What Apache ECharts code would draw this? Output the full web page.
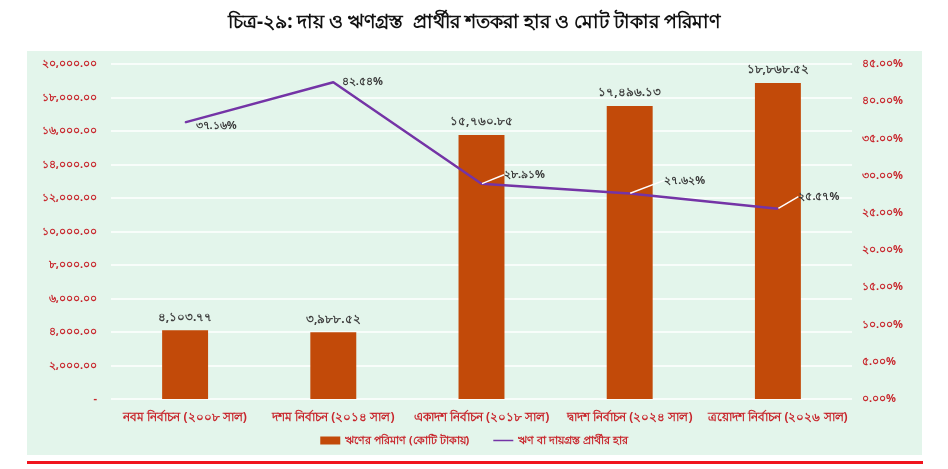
<!DOCTYPE html>
<html>
<head>
<meta charset="utf-8">
<script src="https://cdn.jsdelivr.net/npm/echarts@6/dist/echarts.min.js"></script>
<style>
  html, body { margin: 0; padding: 0; background: #fff; }
  #chart { width: 948px; height: 469px; }
</style>
</head>
<body>
<div id="chart"></div>
<script>
// data
var titleText = 'চিত্র-২৯: দায় ও ঋণগ্রস্ত  প্রার্থীর শতকরা হার ও মোট টাকার পরিমাণ';
var categories = ['নবম নির্বাচন (২০০৮ সাল)', 'দশম নির্বাচন (২০১৪ সাল)', 'একাদশ নির্বাচন (২০১৮ সাল)', 'দ্বাদশ নির্বাচন (২০২৪ সাল)', 'ত্রয়োদশ নির্বাচন (২০২৬ সাল)'];
var debtAmount = [4103.77, 3988.52, 15760.85, 17496.13, 18868.52];
var debtRate = [37.16, 42.54, 28.91, 27.62, 25.57];
var barName = 'ঋণের পরিমাণ (কোটি টাকায়)';
var lineName = 'ঋণ বা দায়গ্রস্ত প্রার্থীর হার';

var red = '#C8282E';
var font = "'Noto Sans', 'DejaVu Sans', sans-serif";

// latin digits -> bangla digits
var bn = ['০','১','২','৩','৪','৫','৬','৭','৮','৯'];
function toBn(s) {
  return String(s).replace(/[0-9]/g, function (d) { return bn[+d]; });
}
function fmtMoney(v) {
  var parts = v.toFixed(2).split('.');
  parts[0] = parts[0].replace(/\B(?=(\d{3})+(?!\d))/g, ',');
  return toBn(parts.join('.'));
}

// where the rate labels sit relative to their point
var rateLabelShift = [[6, 3], [4, 0], [18, -9], [30, -13], [16, -12]];

var myChart = echarts.init(document.getElementById('chart'));
var option = {
  backgroundColor: '#fff',
  animation: false,
  title: {
    text: titleText,
    left: 'center',
    top: 8,
    textStyle: { fontFamily: font, fontSize: 19, fontWeight: 'bold', color: '#111' }
  },
  graphic: [
    {
      type: 'rect', z: -10, silent: true,
      shape: { x: 27, y: 51, width: 895, height: 404 },
      style: { fill: '#E3F5EB' }
    },
    {
      type: 'rect', z: -10, silent: true,
      shape: { x: 27, y: 461, width: 896, height: 3 },
      style: { fill: '#F0141E' }
    }
  ],
  legend: {
    bottom: 18,
    left: 'center',
    itemGap: 24,
    itemWidth: 20,
    itemHeight: 8,
    textStyle: { fontFamily: font, fontSize: 11, fontWeight: 'bold', color: red },
    data: [
      { name: barName, icon: 'rect' },
      { name: lineName, icon: 'path://M0,3.5 L20,3.5 L20,5 L0,5 Z' }
    ]
  },
  grid: { left: 111, right: 96, top: 64, bottom: 70 },
  xAxis: {
    type: 'category',
    data: categories,
    axisLine: { show: false },
    axisTick: { show: false },
    axisLabel: { fontFamily: font, fontSize: 12, fontWeight: 'bold', color: red, margin: 13, interval: 0 }
  },
  yAxis: [
    {
      type: 'value',
      min: 0, max: 20000, interval: 2000,
      axisLine: { show: false },
      axisTick: { show: false },
      splitLine: { lineStyle: { color: '#fff', width: 1.5 } },
      axisLabel: {
        fontFamily: font, fontSize: 11, fontWeight: 'bold', color: red, margin: 14,
        formatter: function (v) { return v === 0 ? '-' : fmtMoney(v); }
      }
    },
    {
      type: 'value',
      min: 0, max: 45, interval: 5,
      axisLine: { show: false },
      axisTick: { show: false },
      splitLine: { show: false },
      axisLabel: {
        fontFamily: font, fontSize: 11, fontWeight: 'bold', color: red, margin: 10,
        formatter: function (v) { return toBn(v.toFixed(2)) + '%'; }
      }
    }
  ],
  series: [
    {
      name: barName,
      type: 'bar',
      data: debtAmount,
      barWidth: '31%',
      itemStyle: { color: '#C24A09' },
      label: {
        show: true, position: 'top', distance: 7,
        fontFamily: font, fontSize: 12, fontWeight: 'bold', color: '#404040',
        formatter: function (p) { return fmtMoney(p.value); }
      }
    },
    {
      name: lineName,
      type: 'line',
      yAxisIndex: 1,
      data: debtRate.map(function (v, i) {
        return { value: v, labelLine: { show: i >= 2 } };
      }),
      symbol: 'circle',
      symbolSize: 1,
      showSymbol: true,
      lineStyle: { color: '#7434A6', width: 2.5 },
      itemStyle: { color: '#7434A6' },
      label: {
        show: true, position: 'right', distance: 4,
        fontFamily: font, fontSize: 11, fontWeight: 'bold', color: '#3a3a3a',
        formatter: function (p) { return toBn(p.value.toFixed(2)) + '%'; }
      },
      labelLine: { show: true, lineStyle: { color: '#fff', width: 1.5 } },
      labelLayout: function (p) {
        var s = rateLabelShift[p.dataIndex];
        return { dx: s[0], dy: s[1] };
      }
    }
  ]
};
myChart.setOption(option);
</script>
</body>
</html>
